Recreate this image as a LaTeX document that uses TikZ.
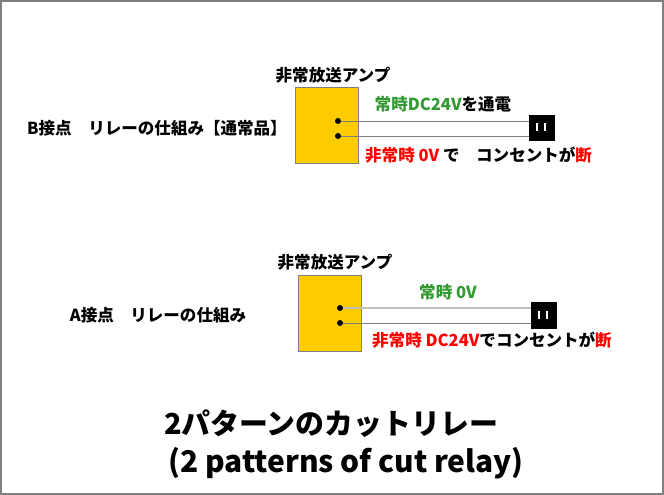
\documentclass[tikz,border=0pt]{standalone}
\usepackage{fontspec}
\setmainfont{Noto Sans CJK JP Black}
\usepackage{xcolor}
\usepackage{tikz}
\definecolor{ampyellow}{HTML}{FFCC00}
\definecolor{okgreen}{HTML}{339933}
\definecolor{framegray}{HTML}{7F7F7F}

\begin{document}
\begin{tikzpicture}[x=1bp,y=-1bp,
  amp/.style={draw=framegray,fill=ampyellow,minimum width=63bp,minimum height=76bp,inner sep=0},
  dot/.style={circle,fill=black,inner sep=0,minimum size=6bp},
  plug/.style={fill=black,inner sep=0,minimum width=26bp,minimum height=26bp},
  wire/.style={draw=framegray,line width=0.8bp},
  txt/.style={inner sep=0,font=\fontsize{16.6}{16.6}\selectfont}]

\useasboundingbox (0,0) rectangle (664,495);
\draw[framegray,line width=2bp] (1,1) rectangle (663,494);

\begin{scope}[]
\node[txt] (leftB) at (157,128) {B接点　リレーの仕組み【通常品】};
\node[txt] (titleB) at (333,75) {非常放送アンプ};
\node[amp] (ampB) at (326.5,125) {};
\node[dot] (dotB1) at (338,121) {};
\node[dot] (dotB2) at (338,136) {};
\node[plug] (plugB) at (542,128) {};
\draw[white,line width=2bp]
(plugB.center) ++(-5.5,-5) -- ++(0,8)
(plugB.center) ++(2.5,-5) -- ++(0,8);
\draw[wire] (dotB1) -- (dotB1 -| plugB.west);
\draw[wire] (dotB2) -- (dotB2 -| plugB.west);
\node[txt] (onB) at (443,104) {\textcolor{okgreen}{常時DC24V}を通電};
\node[txt,anchor=west] (offB) at (365,155)
{\textcolor{red}{非常時 0V} で　コンセントが\textcolor{red}{断}};
\end{scope}


\begin{scope}[]
\node[txt] (leftA) at (158,315) {A接点　リレーの仕組み};
\node[txt] (titleA) at (335,262) {非常放送アンプ};
\node[amp] (ampA) at (329.5,313) {};
\node[dot] (dotA1) at (340,308) {};
\node[dot] (dotA2) at (340,323) {};
\node[plug,minimum height=27bp] (plugA) at (544,315.5) {};
\draw[white,line width=2bp]
(plugA.center) ++(-5.5,-4.5) -- ++(0,8)
(plugA.center) ++(2.5,-4.5) -- ++(0,8);
\draw[wire,draw=gray!50,line width=1.2bp] (dotA1) -- (dotA1 -| plugA.west);
\draw[wire] (dotA2) -- (dotA2 -| plugA.west);
\node[txt] (onA) at (448,292) {\textcolor{okgreen}{常時 0V}};
\node[txt,anchor=west] (offA) at (372,340)
{\textcolor{red}{非常時 DC24V}でコンセントが\textcolor{red}{断}};
\end{scope}


\node[inner sep=0,font=\fontsize{29}{29}\selectfont] (head) at (331,424) {2パターンのカットリレー};
\node[inner sep=0,font=\fontsize{30}{30}\selectfont] (sub) at (346,463) {(2 patterns of cut relay)};

\end{tikzpicture}
\end{document}
